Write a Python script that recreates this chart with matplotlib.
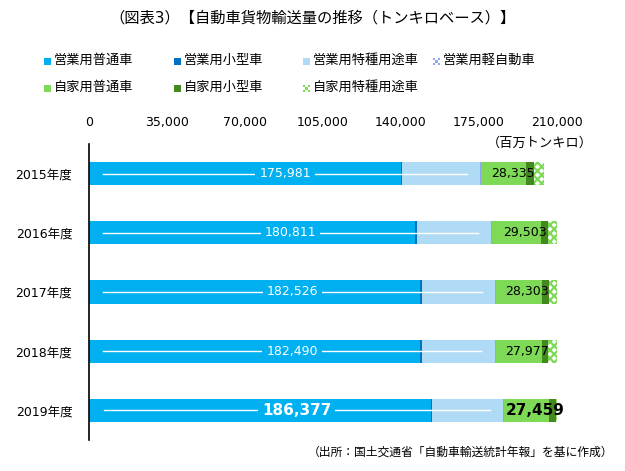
import numpy as np
import matplotlib.pyplot as plt
from matplotlib.patches import Rectangle

plt.rcParams['font.family'] = ['DejaVu Sans', 'Noto Sans CJK JP']
plt.rcParams['hatch.linewidth'] = 1.6

# データ（百万トンキロ）
years = ['2015年度', '2016年度', '2017年度', '2018年度', '2019年度']
eigyo_futsu = [140000, 146500, 148700, 148700, 153300]
eigyo_kogata = [500, 500, 500, 500, 500]
eigyo_tokushu = [35000, 33300, 32800, 32800, 32100]
eigyo_kei = [481, 511, 526, 490, 477]
jika_futsu = [20200, 21800, 20700, 20800, 20000]
jika_kogata = [3600, 3300, 3300, 2700, 3000]
jika_tokushu = [4535, 4403, 4303, 4477, 4459]
xticks = [0, 35000, 70000, 105000, 140000, 175000, 210000]

c_futsu = '#00B0F0'
c_kogata = '#0070C0'
c_tokushu = '#B0DBF6'
c_kei = '#8DA6EC'
c_jfutsu = '#7ED957'
c_jkogata = '#43891F'

fig = plt.figure(figsize=(6.25, 4.71), dpi=100)
ax = fig.add_axes([89 / 625, 1 - 440 / 471, 468 / 625, 296 / 471])

y = np.arange(len(years))
h = 0.39
series = [
    (eigyo_futsu, dict(color=c_futsu)),
    (eigyo_kogata, dict(color=c_kogata)),
    (eigyo_tokushu, dict(color=c_tokushu)),
    (eigyo_kei, dict(color=c_kei)),
    (jika_futsu, dict(color=c_jfutsu)),
    (jika_kogata, dict(color=c_jkogata)),
    (jika_tokushu, dict(facecolor='white', edgecolor=c_jfutsu, hatch='xxxx', linewidth=0)),
]
left = np.zeros(len(years))
for vals, kw in series:
    ax.barh(y, vals, height=h, left=left, **kw)
    left += np.array(vals)

eigyo_total = np.sum([eigyo_futsu, eigyo_kogata, eigyo_tokushu, eigyo_kei], axis=0)
jika_total = np.sum([jika_futsu, jika_kogata, jika_tokushu], axis=0)

for i in range(len(years)):
    last = i == len(years) - 1
    c = eigyo_total[i] / 2
    half = eigyo_total[i] / 2 * 0.93
    ax.plot([c - half, c + half], [i, i], color='white', lw=1)
    ax.text(c, i, f'{eigyo_total[i]:,}', color='white', ha='center', va='center',
            fontsize=11 if last else 9, fontweight='bold' if last else 'normal',
            bbox=dict(facecolor=c_futsu, edgecolor='none', pad=3))
    jc = eigyo_total[i] + jika_total[i] / 2
    ax.text(jc, i, f'{jika_total[i]:,}', color='black', ha='center', va='center',
            fontsize=11 if last else 9, fontweight='bold' if last else 'normal')

ax.set_xlim(0, 210000)
ax.set_ylim(len(years) - 0.5, -0.5)
ax.set_yticks(y)
ax.set_yticklabels(years, fontsize=9)
ax.xaxis.tick_top()
ax.set_xticks(xticks)
ax.set_xticklabels([f'{v:,}' for v in xticks], fontsize=9)
ax.tick_params(length=0)
ax.tick_params(axis='x', pad=11)
ax.tick_params(axis='y', pad=12)
for s in ['top', 'right', 'bottom']:
    ax.spines[s].set_visible(False)
ax.spines['left'].set_linewidth(1.2)

fig.text(0.5, 1 - 18 / 471, '（図表3）【自動車貨物輸送量の推移（トンキロベース）】',
         ha='center', va='center', fontsize=11)
fig.text(540 / 625, 1 - 143 / 471, '（百万トンキロ）', ha='center', va='center', fontsize=9.5)
fig.text(613 / 625, 1 - 452 / 471, '（出所：国土交通省「自動車輸送統計年報」を基に作成）',
         ha='right', va='center', fontsize=8.5)


def legend_square(px, py, color, checker=False):
    # 凡例マーカー（7px 四方）
    if not checker:
        fig.add_artist(Rectangle((px / 625, 1 - (py + 5) / 471), 7 / 625, 7 / 471,
                                 transform=fig.transFigure, facecolor=color, edgecolor='none'))
        return
    cell = 7 / 3
    for r in range(3):
        for k in range(3):
            if (r + k) % 2 == 0:
                fig.add_artist(Rectangle(((px + k * cell) / 625, 1 - (py + 5 - r * cell - cell) / 471 - cell / 471),
                                         cell / 625, cell / 471, transform=fig.transFigure,
                                         facecolor=color, edgecolor='none'))


legend_items = [
    ('営業用普通車', c_futsu, False, 44, 60),
    ('営業用小型車', c_kogata, False, 174, 60),
    ('営業用特種用途車', c_tokushu, False, 303, 60),
    ('営業用軽自動車', c_kei, True, 433, 60),
    ('自家用普通車', c_jfutsu, False, 44, 87),
    ('自家用小型車', c_jkogata, False, 174, 87),
    ('自家用特種用途車', c_jfutsu, True, 303, 87),
]
for label, color, checker, px, py in legend_items:
    legend_square(px, py, color, checker)
    fig.text((px + 10) / 625, 1 - py / 471, label, ha='left', va='center', fontsize=9.5)

plt.savefig('out.png', dpi=100)
